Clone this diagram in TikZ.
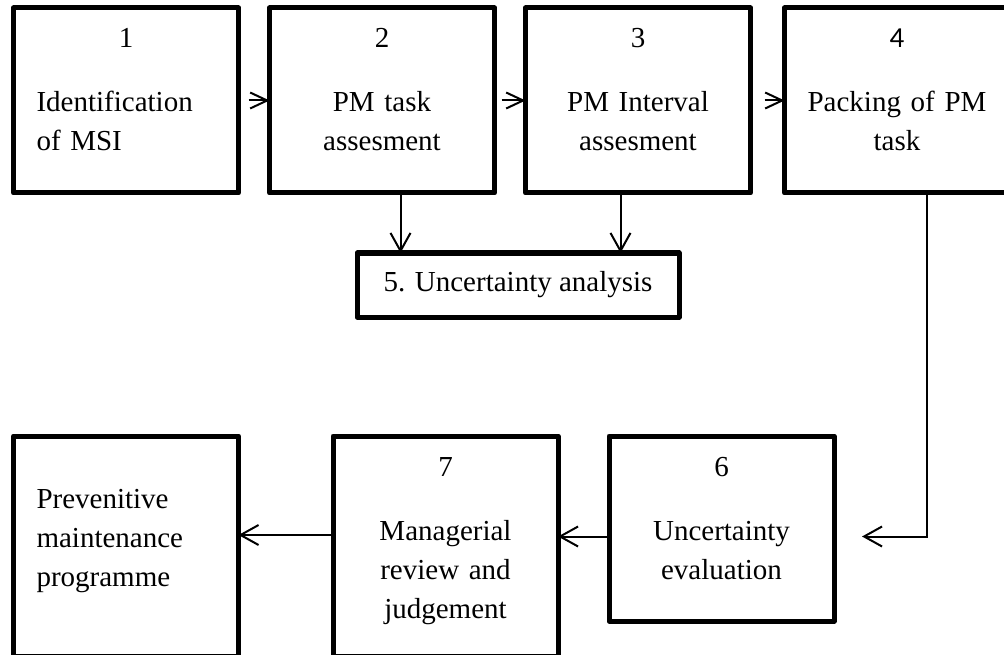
\documentclass[tikz,border=0pt]{standalone}
\usepackage{fontspec}
\setmainfont{Liberation Serif}
\newfontfamily\calibrifont{Carlito}
\usetikzlibrary{arrows.meta, positioning}

\newcommand{\lind}{\hspace*{23pt}}

\tikzset{
  stepbox/.style={draw, line width=5pt, line join=round, inner sep=0pt, outer sep=0pt,
    text width=225pt, align=center, text height=40pt, text depth=145pt,
    font=\fontsize{29pt}{39pt}\selectfont},
  tallbox/.style={stepbox, text depth=180pt},
  flatbox/.style={draw, line width=5pt, line join=round, inner sep=0pt, outer sep=0pt,
    minimum width=322pt, minimum height=64pt, font=\fontsize{29pt}{39pt}\selectfont},
  flow/.style={line width=2pt, -{Straight Barb[length=18pt, width=20pt]}},
  shortflow/.style={flow, -{Straight Barb[length=17pt, width=16pt]}}
}

\begin{document}
\begin{tikzpicture}[x=1pt, y=-1pt]
  \fill[white] (0,0) rectangle (1004,655);
  \useasboundingbox (0,0) rectangle (1004,655);
  \clip (0,0) rectangle (1004,655);

  % Top row: steps 1 to 4
  \node[stepbox, align=left] (s1) at (126,100.5) {\makebox[\linewidth]{1}\\[25pt]\lind Identification\\\lind of MSI};
  \node[stepbox, right=31pt of s1] (s2) {2\\[25pt]PM task\\assesment};
  \node[stepbox, right=31pt of s2] (s3) {3\\[25pt]PM Interval\\assesment};
  \node[stepbox, right=34pt of s3] (s4) {{\calibrifont 4}\\[25pt]Packing of PM\\task};

  % Step 5
  \node[flatbox] (u5) at (518,285) {5. Uncertainty analysis};

  % Bottom row: steps 6, 7 and the programme
  \node[tallbox, align=left] (sp) at (126,546) {\mbox{}\\[-7pt]\lind Prevenitive\\\lind maintenance\\\lind programme};
  \node[tallbox] (s7) at (445.5,546) {7\\[25pt]Managerial\\review and\\judgement};
  \node[stepbox] (s6) at (721.5,528.5) {6\\[25pt]Uncertainty\\evaluation};
  \coordinate (c6) at ([xshift=28pt, yshift=-8pt]s6.east);

  % Connectors
  \draw[shortflow, shorten <=10pt] (s1) -- (s2);
  \draw[shortflow, shorten <=7pt] (s2) -- (s3);
  \draw[shortflow, shorten <=14pt] (s3) -- (s4);
  \draw[flow] ([xshift=18.5pt]s2.south) -- ([xshift=18.5pt]s2.south |- u5.north);
  \draw[flow] ([xshift=-17.5pt]s3.south) -- ([xshift=-17.5pt]s3.south |- u5.north);
  \draw[flow] ([xshift=30pt]s4.south) |- (c6);
  \draw[flow] ([yshift=-8pt]s6.west) -- ([yshift=-8pt]s6.west -| s7.east);
  \draw[flow] ([yshift=11pt]s7.west) -- ([yshift=11pt]s7.west -| sp.east);
\end{tikzpicture}
\end{document}
